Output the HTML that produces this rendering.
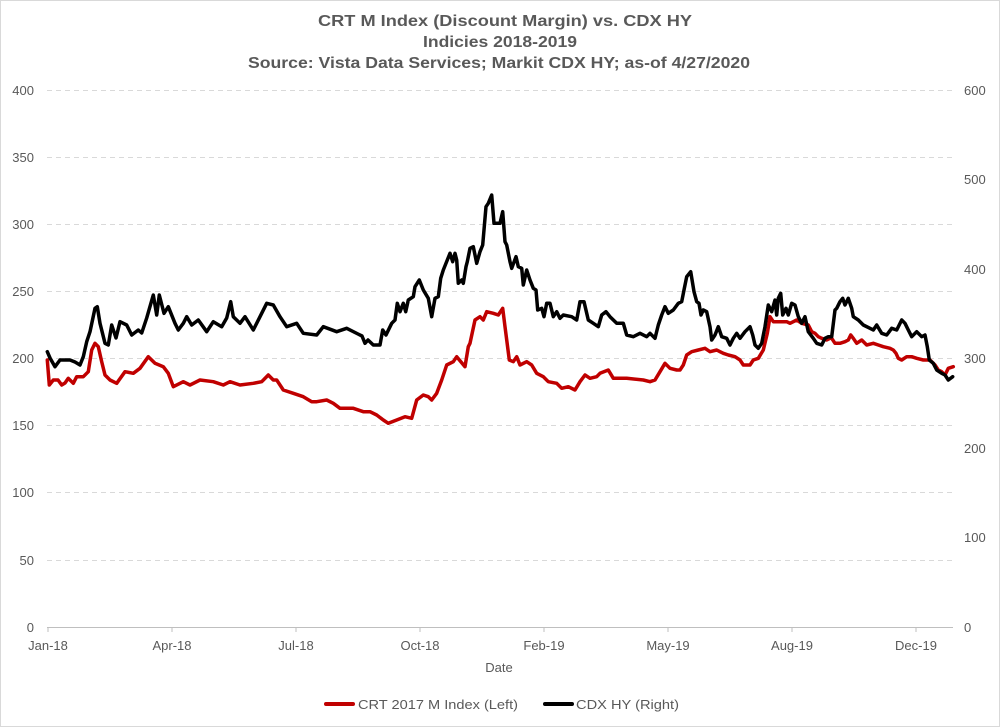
<!DOCTYPE html>
<html>
<head>
<meta charset="utf-8">
<style>
  html, body { margin: 0; padding: 0; background: #ffffff; }
  svg { display: block; }
  text { font-family: "Liberation Sans", Arial, sans-serif; fill: #595959; }
</style>
</head>
<body>
<svg width="1000" height="727" viewBox="0 0 1000 727" xmlns="http://www.w3.org/2000/svg">
  <rect x="0.5" y="0.5" width="999" height="726" fill="#ffffff" stroke="#d9d9d9" stroke-width="1"/>

  <!-- Title -->
  <text x="505" y="26" text-anchor="middle" font-size="16" font-weight="bold" textLength="374" lengthAdjust="spacingAndGlyphs">CRT M Index (Discount Margin) vs. CDX HY</text>
  <text x="500" y="47" text-anchor="middle" font-size="16" font-weight="bold" textLength="154" lengthAdjust="spacingAndGlyphs">Indicies 2018-2019</text>
  <text x="499" y="68" text-anchor="middle" font-size="16" font-weight="bold" textLength="502" lengthAdjust="spacingAndGlyphs">Source: Vista Data Services; Markit CDX HY; as-of 4/27/2020</text>

  <!-- Gridlines -->
  <g stroke="#d9d9d9" stroke-width="1" stroke-dasharray="5,4">
    <line x1="47" y1="90.5" x2="952" y2="90.5"/>
    <line x1="47" y1="157.5" x2="952" y2="157.5"/>
    <line x1="47" y1="224.5" x2="952" y2="224.5"/>
    <line x1="47" y1="291.5" x2="952" y2="291.5"/>
    <line x1="47" y1="358.5" x2="952" y2="358.5"/>
    <line x1="47" y1="425.5" x2="952" y2="425.5"/>
    <line x1="47" y1="492.5" x2="952" y2="492.5"/>
    <line x1="47" y1="560.5" x2="952" y2="560.5"/>
  </g>

  <!-- X axis -->
  <line x1="47" y1="627.5" x2="953" y2="627.5" stroke="#bfbfbf" stroke-width="1"/>
  <g stroke="#bfbfbf" stroke-width="1">
    <line x1="48" y1="627" x2="48" y2="632"/>
    <line x1="172" y1="627" x2="172" y2="632"/>
    <line x1="296" y1="627" x2="296" y2="632"/>
    <line x1="420" y1="627" x2="420" y2="632"/>
    <line x1="544" y1="627" x2="544" y2="632"/>
    <line x1="668" y1="627" x2="668" y2="632"/>
    <line x1="792" y1="627" x2="792" y2="632"/>
    <line x1="916" y1="627" x2="916" y2="632"/>
  </g>

  <!-- Left axis labels -->
  <g font-size="13" text-anchor="end">
    <text x="34" y="95">400</text>
    <text x="34" y="162">350</text>
    <text x="34" y="229">300</text>
    <text x="34" y="296">250</text>
    <text x="34" y="363">200</text>
    <text x="34" y="430">150</text>
    <text x="34" y="497">100</text>
    <text x="34" y="565">50</text>
    <text x="34" y="632">0</text>
  </g>

  <!-- Right axis labels -->
  <g font-size="13" text-anchor="start">
    <text x="964" y="95">600</text>
    <text x="964" y="184">500</text>
    <text x="964" y="274">400</text>
    <text x="964" y="363">300</text>
    <text x="964" y="453">200</text>
    <text x="964" y="542">100</text>
    <text x="964" y="632">0</text>
  </g>

  <!-- X tick labels -->
  <g font-size="13" text-anchor="middle">
    <text x="48" y="650">Jan-18</text>
    <text x="172" y="650">Apr-18</text>
    <text x="296" y="650">Jul-18</text>
    <text x="420" y="650">Oct-18</text>
    <text x="544" y="650">Feb-19</text>
    <text x="668" y="650">May-19</text>
    <text x="792" y="650">Aug-19</text>
    <text x="916" y="650">Dec-19</text>
  </g>
  <text x="499" y="672" font-size="13" text-anchor="middle">Date</text>

  <!-- Red series: CRT 2017 M Index (Left) -->
  <polyline fill="none" stroke="#c00000" stroke-width="3.5" stroke-linejoin="round" stroke-linecap="round" points="
47.3,360 49.3,385 53.3,380 58,380 61.7,385 65,383 68.3,378.3 73.3,383.3 76.7,376.7 83.3,376.7 88.3,371.7 91.7,350 95,343.3 98.3,346.7 101.7,361.7 105,375 110,380 116.7,383.3 125,371.7 133.3,373.3 140,368.3 148.3,356.7 155,363.3 163.3,366.7 168.3,373.3 173.3,386.7 183.3,381.7 190,385 200,380 213.3,381.7 223.3,385 230,381.7 240,385 253.3,383.3 261.7,381.7 268.3,375 273.3,380 276.7,380 283.3,390 293.3,393.3 303.3,396.7 311.7,401.7 316.7,401.7 326.7,400 333.3,403.3 340,408.3 353.3,408.3 363.3,411.7 370,411.7 376.7,415 383.3,420 388.3,423.3 396.7,420 405,416.7 411.7,418.3 416.7,400 423.3,395 428.3,396.7 431.7,400 436.7,393.3 441.7,380 446.7,365 453.3,361.7 456.7,356.7 465,366.7 468.3,346.7 470,343.3 475,320 480,316.7 483.3,320 486.7,311.7 493.3,313.3 498.3,315 502.7,308.3 505,326.7 509.3,360 513.3,361.7 516.7,356.7 520,365 526.7,361.7 531.7,365 536.7,373.3 543.3,376.7 548.3,381.7 556.7,383.3 561.7,388.3 568.3,386.7 575,390 580,381.7 585,375 590,378.3 596.7,376.7 600,373.3 608.3,370 613.3,378.3 626.7,378.3 643.3,380 650,381.7 655,380 660,371.7 665,363.3 670,368.3 676.7,370 680,370 683.3,365 686.7,355 691.7,351.7 698.3,350 705,348.3 710,351.7 716.7,350 720,351.7 723.3,353.3 728.3,355 735,356.7 740,360 743.3,365 750,365 753.3,360 758.3,358.3 763.3,350 767.3,333.3 770,316.7 773.3,321.7 786.7,321.7 790,323.3 793.3,321.7 796.7,320 801.7,323.3 808.3,325 811.7,331.7 815,333.3 818.3,336.7 821.7,338.3 826.7,340 830,338.3 831.7,338.3 835,343.3 840,343.3 845,341.7 848.3,340 850.7,335 853.3,338.3 856.7,343.3 861.7,340 866.7,345 873.3,343.3 878.3,345 883.3,346.7 890,348.3 893.3,350 896,353.3 898.3,358.3 901.7,360 906.7,356.7 911.7,356.7 916.7,358.3 923.3,360 930,360 935,365 938.3,370 941.7,371.7 945,375 948.3,368.3 953.3,366.7"/>

  <!-- Black series: CDX HY (Right) -->
  <polyline fill="none" stroke="#000000" stroke-width="3.5" stroke-linejoin="round" stroke-linecap="round" points="
47.3,351.7 50,358 55,366.7 60,360 70,360 75,362 80,365 83.3,356.7 86.7,341.7 90,331.7 95,308.3 97.3,306.7 100,323.3 105,343.3 108.3,345 111.7,325 116,338 120,321.7 126.7,325 131.7,335 138.3,330 141.7,333 146.7,318 153.3,295 156.7,315 159.3,295 164,313.3 168.3,306.7 175,323.3 178.3,330 183.3,323.3 186.7,316.7 191.7,325 198.3,320 206.7,331.7 213.3,321.7 221.7,326.7 226.7,318 230.7,301.7 233.3,316.7 240,323.3 245,316.7 253.3,330 260,316.7 266.7,303.3 273.3,305 280,316.7 286.7,326.7 296.7,323.3 303.3,333.3 316.7,335 323.3,326.7 336.7,331.7 346.7,328.3 358,334 362,336 365,343.3 368,340 373.3,345 380,345 382.7,330 386,335 391.7,323.3 395,320 397.3,303.3 400,311.7 403.3,303.3 405.7,311.7 408.3,300 413.3,296.7 415,286.7 419.3,280 423.3,290 428.3,298.3 431.7,316.7 435,298.3 438.3,296.7 440.7,278.3 443.3,270 447.3,260 450,253.3 452.7,261.7 455,253.3 456.7,260 458.3,283.3 461.7,280 463.3,283.3 466,266.7 467.3,261.7 470,248.3 473.3,246.7 476.7,263.3 480,251.7 482.7,245 486,206.7 488.3,203.3 491.7,195 494,223.3 500,223.3 502.7,211.7 505,241.7 506.7,245 510,261.7 511.7,268.3 516,256.7 518.3,266.7 521.7,268.3 523.3,285 526.7,270 530,280 533.3,288.3 536,290 537.7,310 541.7,308.3 544,316.7 546.7,303.3 550,303.3 553.3,316.7 556.7,311.7 560,318.3 563.3,315 571.7,316.7 576.7,320 580,301.7 584,301.7 588.3,320 593.3,323.3 598.3,326.7 601.7,315 606,311.7 610,316.7 616.7,323.3 623.3,323.3 626.7,335 633.3,336.7 640,333.3 646.7,336.7 650,333.3 655,338.3 658.3,325 661.7,315 665,306.7 668.3,313.3 673.3,310 678.3,303.3 681.7,301.7 684,290 686.7,276.7 690.7,271.7 694,291.7 696.7,301.7 699,303.3 701,315 703.3,310 706.7,311.7 710,326.7 711.7,340 715,335 718.3,326.7 721.7,336.7 726.7,338.3 730,345 733.3,338.3 736.7,333.3 740,338.3 745,331.7 750,326.7 752.7,335 755,345 758.3,348.3 761.7,343.3 765,326.7 768.3,305 771.7,311.7 775,300 776.7,315 778.3,298.3 780.7,293.3 782.7,315 786,308.3 788.3,315 791.7,303.3 795,305 798.3,316.7 801.7,323.3 805,316.7 808.3,331.7 813.3,338.3 816.7,343.3 821.7,345 825,338.3 828.3,336.7 831.7,336.7 835,310 836.7,308.3 840,301.7 842.7,298.3 845,305 848.3,298.3 851.7,308.3 853.3,316.7 858.3,320 863.3,325 870,328.3 873.3,330 876.7,325 881.7,333.3 886.7,335 891.7,328.3 896.7,330 901.7,320 905,323.3 908.3,330 911.7,336.7 916.7,331.7 921.7,336.7 925,335 927.3,346.7 929.3,360 933.3,363.3 936.7,370 941.7,373.3 945,375 948.3,380 952.7,376.7"/>

  <!-- Legend -->
  <line x1="326" y1="704" x2="353" y2="704" stroke="#c00000" stroke-width="4" stroke-linecap="round"/>
  <text x="358" y="709" font-size="13" textLength="160" lengthAdjust="spacingAndGlyphs">CRT 2017 M Index (Left)</text>
  <line x1="545" y1="704" x2="572" y2="704" stroke="#000000" stroke-width="4" stroke-linecap="round"/>
  <text x="576" y="709" font-size="13" textLength="103" lengthAdjust="spacingAndGlyphs">CDX HY (Right)</text>
</svg>
</body>
</html>
